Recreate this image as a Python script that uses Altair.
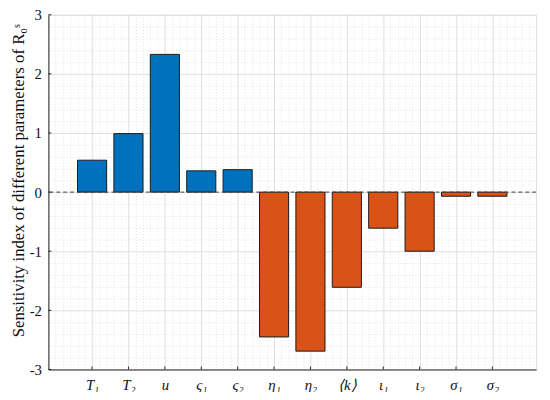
import altair as alt
import pandas as pd

labels = ["T₁", "T₂", "u", "ς₁", "ς₂", "η₁", "η₂", "⟨k⟩", "ι₁", "ι₂", "σ₁", "σ₂"]
values = [0.54, 0.99, 2.33, 0.36, 0.38, -2.45, -2.69, -1.61, -0.61, -1.00, -0.07, -0.07]
positions = list(range(1, 13))
y_major = [-3, -2, -1, 0, 1, 2, 3]

df = pd.DataFrame({"pos": positions, "label": labels, "value": values})

x_grid = [round(-0.2 + 0.2 * k, 1) for k in range(68)]
y_grid = [round(-3 + 0.2 * k, 1) for k in range(31)]

FONT = "Liberation Serif"
AX = "#262626"
is_int = "abs(datum.value - round(datum.value)) < 0.01"
x_major = is_int + " && datum.value > 0.5 && datum.value < 12.5"
label_arr = "[" + ",".join("'" + l + "'" for l in labels) + "]"

x_scale = alt.Scale(domain=[-0.2, 13.2], nice=False, zero=False)
y_scale = alt.Scale(domain=[-3, 3], nice=False, zero=False)

x_axis = alt.Axis(
    values=x_grid, title=None, ticks=False, labelOverlap=False, labelFlush=False,
    labelExpr=x_major + " ? " + label_arr + "[round(datum.value)-1] : ''",
    labelFont=FONT, labelFontSize=15, labelFontStyle="italic", labelColor="#111111",
    labelPadding=8, domainColor=AX, domainWidth=1,
    grid=True,
    gridColor={"condition": {"test": x_major, "value": "#dedede"}, "value": "#e4e4e4"},
    gridDash={"condition": {"test": x_major, "value": []}, "value": [1, 2]},
    gridWidth=1,
)
y_axis = alt.Axis(
    values=y_grid, title="Sensitivity index of different parameters of R₀ˢ",
    ticks=False, labelOverlap=False, labelFlush=False,
    labelExpr=is_int + " ? '' + round(datum.value) : ''",
    labelFont=FONT, labelFontSize=15, labelColor="#111111", labelPadding=7,
    titleFont=FONT, titleFontSize=17, titleFontWeight="normal", titleColor="#111111",
    titlePadding=2, titleY=168,
    domainColor=AX, domainWidth=1,
    grid=True,
    gridColor={"condition": {"test": is_int, "value": "#dedede"}, "value": "#e4e4e4"},
    gridDash={"condition": {"test": is_int, "value": []}, "value": [1, 2]},
    gridWidth=1,
)

bars = alt.Chart(df).transform_calculate(
    x0="datum.pos - 0.4", x1="datum.pos + 0.4", zero="0"
).mark_bar(stroke="#1a1a1a", strokeWidth=1).encode(
    x=alt.X("x0:Q", scale=x_scale, axis=x_axis),
    x2="x1:Q",
    y=alt.Y("value:Q", scale=y_scale, axis=y_axis),
    y2="zero:Q",
    color=alt.condition(alt.datum.value > 0, alt.value("#0072BD"), alt.value("#D95319")),
)

zero_line = alt.Chart(pd.DataFrame({"z": [0]})).mark_rule(
    color="#404040", strokeDash=[4, 3], strokeWidth=1
).encode(y=alt.Y("z:Q", scale=y_scale, axis=y_axis))

x_ticks = alt.Chart(df).transform_calculate(yb="-3", yt="-2.95").mark_rule(
    color=AX, strokeWidth=1
).encode(
    x=alt.X("pos:Q", scale=x_scale, axis=x_axis),
    y=alt.Y("yb:Q", scale=y_scale, axis=y_axis), y2="yt:Q",
)
y_ticks = alt.Chart(pd.DataFrame({"yv": y_major})).transform_calculate(
    xl="-0.2", xr="-0.12"
).mark_rule(color=AX, strokeWidth=1).encode(
    y=alt.Y("yv:Q", scale=y_scale, axis=y_axis),
    x=alt.X("xl:Q", scale=x_scale, axis=x_axis), x2="xr:Q",
)

chart = alt.layer(bars, zero_line, x_ticks, y_ticks).properties(
    width=495, height=360,
    autosize=alt.AutoSizeParams(type="none"),
    padding={"left": 41, "top": 4, "right": 6, "bottom": 20},
).configure_view(stroke=None).configure(background="white")

chart.save("out.html", embed_options={"renderer": "svg", "actions": False})
